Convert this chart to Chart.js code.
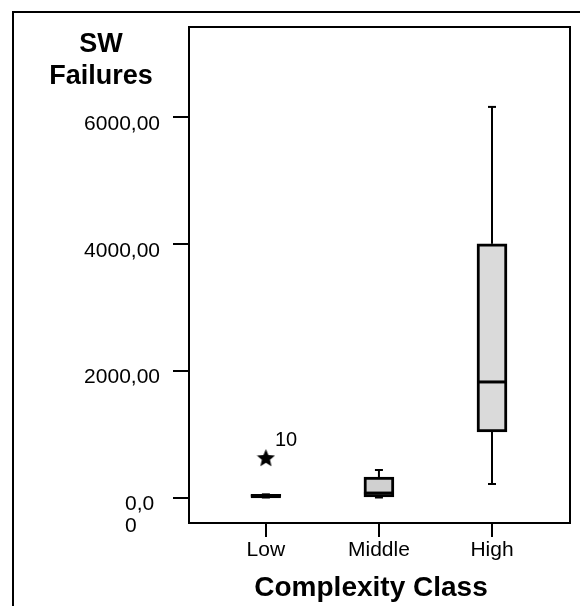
<!DOCTYPE html>
<html>
<head>
<meta charset="utf-8">
<script src="https://cdn.jsdelivr.net/npm/chart.js@4"></script>
<style>
  body { margin: 0; background: #fff; }
  canvas { display: block; }
</style>
</head>
<body>
<canvas id="chart" width="580" height="606"></canvas>
<script>
// box plot values
const categories = ['Low', 'Middle', 'High'];
const whiskerLow = [0, 0, 213];
const quartile1 = [0, 10, 1033];
const medians = [15, 70, 1822];
const quartile3 = [50, 323, 4000];
const whiskerHigh = [50, 434, 6159];
const boxFills = ['#000000', '#d0d0d0', '#dadada'];

// outliers (category position, value, case label)
const outlierPos = [1];
const outlierValues = [630];
const outlierLabels = ['10'];

const yTicks = [0, 2000, 4000, 6000];
const yTickLabels = [['0,0', '0'], ['2000,00'], ['4000,00'], ['6000,00']];

Chart.defaults.font.family = "'Liberation Sans', Arial, Helvetica, sans-serif";
Chart.defaults.color = '#000';

function makeStar(size) {
  const c = document.createElement('canvas');
  c.width = c.height = size;
  const g = c.getContext('2d');
  const R = size / 2, r = R * 0.45;
  g.beginPath();
  for (let i = 0; i < 10; i++) {
    const a = -Math.PI / 2 + i * Math.PI / 5;
    const rad = i % 2 ? r : R;
    g.lineTo(R + rad * Math.cos(a), R + 1 + rad * Math.sin(a));
  }
  g.closePath();
  g.fillStyle = '#000';
  g.fill();
  return c;
}

const boxPlugin = {
  id: 'boxes',
  beforeDatasetsDraw(chart) {
    // whiskers and caps
    const { ctx, scales: { x, y } } = chart;
    ctx.save();
    ctx.strokeStyle = '#000';
    ctx.lineWidth = 2;
    categories.forEach((c, i) => {
      const px = x.getPixelForValue(i + 1);
      [[quartile3[i], whiskerHigh[i]], [quartile1[i], whiskerLow[i]]].forEach(([a, b]) => {
        const ya = y.getPixelForValue(a), yb = y.getPixelForValue(b);
        ctx.beginPath();
        ctx.moveTo(px, ya);
        ctx.lineTo(px, yb);
        ctx.stroke();
        ctx.beginPath();
        ctx.moveTo(px - 4, yb);
        ctx.lineTo(px + 4, yb);
        ctx.stroke();
      });
    });
    ctx.restore();
  },
  afterDatasetsDraw(chart) {
    // median lines
    const { ctx, scales: { x, y } } = chart;
    ctx.save();
    ctx.strokeStyle = '#000';
    ctx.lineWidth = 3;
    categories.forEach((c, i) => {
      const px = x.getPixelForValue(i + 1);
      const py = y.getPixelForValue(medians[i]);
      ctx.beginPath();
      ctx.moveTo(px - 15, py);
      ctx.lineTo(px + 15, py);
      ctx.stroke();
    });
    ctx.restore();
  },
  afterDraw(chart) {
    const { ctx, chartArea: a, scales: { x, y } } = chart;
    ctx.save();
    ctx.strokeStyle = '#000';
    ctx.lineWidth = 2;
    // outer frame
    ctx.beginPath();
    ctx.moveTo(13, 606);
    ctx.lineTo(13, 12);
    ctx.lineTo(580, 12);
    ctx.stroke();
    // plot box
    ctx.strokeRect(a.left, a.top, a.right - a.left, a.bottom - a.top);

    ctx.fillStyle = '#000';
    ctx.font = "21px 'Liberation Sans', Arial, sans-serif";
    ctx.textBaseline = 'middle';
    yTicks.forEach((v, i) => {
      const py = y.getPixelForValue(v) + 7;
      const lines = yTickLabels[i];
      if (lines.length === 1) {
        ctx.textAlign = 'right';
        ctx.fillText(lines[0], a.left - 29, py);
      } else {
        ctx.textAlign = 'left';
        lines.forEach((t, k) => ctx.fillText(t, a.left - 64, py + k * 22));
      }
    });

    // outlier case numbers
    ctx.font = "20px 'Liberation Sans', Arial, sans-serif";
    ctx.textAlign = 'left';
    outlierValues.forEach((v, i) => {
      ctx.fillText(outlierLabels[i], x.getPixelForValue(outlierPos[i]) + 9, y.getPixelForValue(v) - 17);
    });

    // axis titles
    ctx.font = "bold 27px 'Liberation Sans', Arial, sans-serif";
    ctx.textAlign = 'center';
    ctx.textBaseline = 'alphabetic';
    ctx.fillText('SW', 101, 52);
    ctx.fillText('Failures', 101, 84);
    ctx.font = "bold 28px 'Liberation Sans', Arial, sans-serif";
    ctx.fillText('Complexity Class', 371, 596);
    ctx.restore();
  }
};

new Chart(document.getElementById('chart'), {
  type: 'bar',
  data: {
    datasets: [
      {
        type: 'bar',
        data: categories.map((c, i) => ({ x: i + 1, y: [quartile1[i], quartile3[i]] })),
        backgroundColor: boxFills,
        borderColor: '#000',
        borderWidth: 3,
        borderSkipped: false,
        barThickness: 30
      },
      {
        type: 'scatter',
        data: outlierValues.map((v, i) => ({ x: outlierPos[i], y: v })),
        pointStyle: makeStar(19),
        radius: 9
      }
    ]
  },
  options: {
    responsive: false,
    animation: false,
    devicePixelRatio: 1,
    layout: { padding: { top: 27, right: 9, left: 0, bottom: 0 } },
    plugins: { legend: { display: false }, tooltip: { enabled: false } },
    scales: {
      x: {
        type: 'linear',
        min: 0.32,
        max: 3.69,
        offset: false,
        afterBuildTicks: s => { s.ticks = categories.map((c, i) => ({ value: i + 1 })); },
        afterFit: s => { s.height = 83; },
        ticks: {
          callback: v => categories[v - 1],
          font: { size: 21 },
          color: '#000',
          padding: 1,
          maxRotation: 0
        },
        grid: { offset: false, drawOnChartArea: false, tickLength: 14, color: '#000', lineWidth: 2 },
        border: { display: false }
      },
      y: {
        min: -402,
        max: 7419,
        afterBuildTicks: s => { s.ticks = yTicks.map(v => ({ value: v })); },
        afterFit: s => { s.width = 189; },
        ticks: { display: false },
        grid: { drawOnChartArea: false, tickLength: 16, color: '#000', lineWidth: 2 },
        border: { display: false }
      }
    }
  },
  plugins: [boxPlugin]
});
</script>
</body>
</html>
